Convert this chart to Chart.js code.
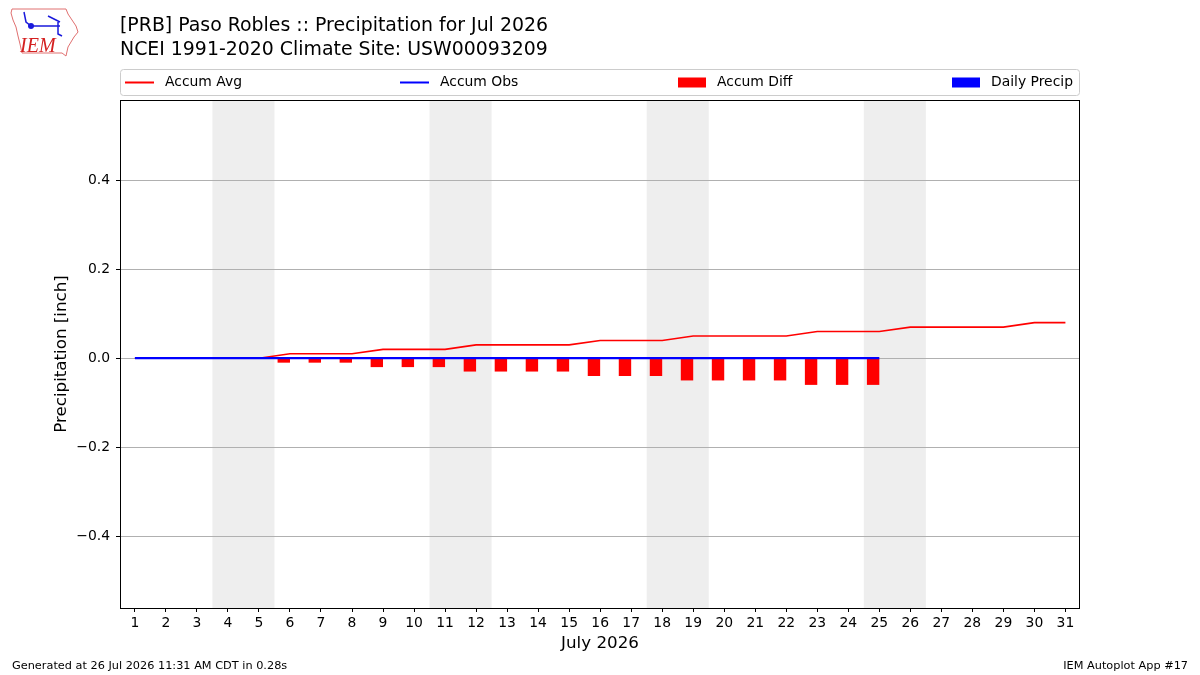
<!DOCTYPE html>
<html>
<head>
<meta charset="utf-8">
<title>PRB Precipitation Jul 2026</title>
<script src="https://cdn.jsdelivr.net/npm/chart.js@4"></script>
<style>
  html, body { margin: 0; padding: 0; background: #ffffff; }
  canvas { display: block; }
</style>
</head>
<body>
<canvas id="myChart" width="1200" height="675"></canvas>
<script>
// the data
let days = [];
for (let d = 1; d <= 31; d++) days.push(d);
let accumAvg = [0, 0, 0, 0, 0, 0.01, 0.01, 0.01, 0.02, 0.02, 0.02, 0.03, 0.03, 0.03, 0.03,
    0.04, 0.04, 0.04, 0.05, 0.05, 0.05, 0.05, 0.06, 0.06, 0.06, 0.07, 0.07, 0.07, 0.07, 0.08, 0.08];
// observations only go to the 25th
let obsDays = days.slice(0, 25);
let accumObs = [0, 0, 0, 0, 0, 0, 0, 0, 0, 0, 0, 0, 0, 0, 0, 0, 0, 0, 0, 0, 0, 0, 0, 0, 0];
let accumDiff = [0, 0, 0, 0, 0, -0.01, -0.01, -0.01, -0.02, -0.02, -0.02, -0.03, -0.03, -0.03, -0.03,
    -0.04, -0.04, -0.04, -0.05, -0.05, -0.05, -0.05, -0.06, -0.06, -0.06];
let dailyPrecip = [0, 0, 0, 0, 0, 0, 0, 0, 0, 0, 0, 0, 0, 0, 0, 0, 0, 0, 0, 0, 0, 0, 0, 0, 0];
// saturdays of july 2026, the weekend gets shaded
let weekendStarts = [4, 11, 18, 25];
let yTicks = [-0.4, -0.2, 0, 0.2, 0.4];

let titleLines = ['[PRB] Paso Robles :: Precipitation for Jul 2026', 'NCEI 1991-2020 Climate Site: USW00093209'];
let footerLeft = 'Generated at 26 Jul 2026 11:31 AM CDT in 0.28s';
let footerRight = 'IEM Autoplot App #17';

const FONT = "'DejaVu Sans', 'Liberation Sans', sans-serif";

// white background + gray weekend bands, drawn before the grid
const bandsPlugin = {
    id: 'bands',
    beforeDraw(chart) {
        const ctx = chart.ctx;
        const a = chart.chartArea;
        const x = chart.scales.x;
        ctx.save();
        ctx.fillStyle = '#ffffff';
        ctx.fillRect(0, 0, chart.width, chart.height);
        ctx.fillStyle = '#eeeeee';
        weekendStarts.forEach(d => {
            let x0 = x.getPixelForValue(d - 0.5);
            let x1 = x.getPixelForValue(d + 1.5);
            ctx.fillRect(x0, a.top, x1 - x0, a.bottom - a.top);
        });
        ctx.restore();
    }
};

// frame, titles, legend, logo, footer
const decorPlugin = {
    id: 'decor',
    afterDraw(chart) {
        const ctx = chart.ctx;
        const a = chart.chartArea;
        ctx.save();

        // axes frame
        ctx.strokeStyle = '#000000';
        ctx.lineWidth = 1;
        ctx.strokeRect(Math.round(a.left) + 0.5, Math.round(a.top) + 0.5,
            Math.round(a.right - a.left) - 1, Math.round(a.bottom - a.top));

        // titles
        ctx.fillStyle = '#000000';
        ctx.font = '18.9px ' + FONT;
        ctx.textAlign = 'left';
        ctx.textBaseline = 'alphabetic';
        ctx.fillText(titleLines[0], 120, 31);
        ctx.fillText(titleLines[1], 120, 55);

        // legend box
        ctx.strokeStyle = '#cccccc';
        ctx.lineWidth = 1;
        ctx.beginPath();
        ctx.roundRect(120.5, 69.5, 959, 26, 3);
        ctx.stroke();

        const ly = 82.5;
        const items = [
            { start: 125, text: 165, line: true },
            { start: 400, text: 440, line: true },
            { start: 678, text: 717, line: false },
            { start: 952, text: 991, line: false }
        ];
        ctx.font = '13.9px ' + FONT;
        ctx.textBaseline = 'middle';
        chart.data.datasets.forEach((ds, i) => {
            const it = items[i];
            if (it.line) {
                ctx.strokeStyle = ds.borderColor;
                ctx.lineWidth = 2;
                ctx.beginPath();
                ctx.moveTo(it.start, ly);
                ctx.lineTo(it.start + 29, ly);
                ctx.stroke();
            } else {
                ctx.fillStyle = ds.backgroundColor;
                ctx.fillRect(it.start, ly - 5, 28, 10);
            }
            ctx.fillStyle = '#000000';
            ctx.fillText(ds.label, it.text, ly);
        });

        // little IEM logo
        ctx.strokeStyle = '#e07070';
        ctx.lineWidth = 1;
        ctx.beginPath();
        const pts = [[12, 9], [66, 9], [68, 14], [72, 20], [76, 26], [78, 32], [74, 37], [71, 42], [68, 47],
            [66, 56], [62, 53], [22, 53], [20, 44], [18, 36], [16, 27], [13, 20], [11, 13]];
        pts.forEach((p, i) => i ? ctx.lineTo(p[0], p[1]) : ctx.moveTo(p[0], p[1]));
        ctx.closePath();
        ctx.stroke();
        ctx.strokeStyle = '#1a1adc';
        ctx.fillStyle = '#1a1adc';
        ctx.lineWidth = 1.5;
        ctx.beginPath();
        ctx.moveTo(31, 26); ctx.lineTo(60, 26);
        ctx.moveTo(24, 12); ctx.lineTo(26, 22); ctx.lineTo(31, 26);
        ctx.moveTo(48, 16); ctx.lineTo(60, 22);
        ctx.moveTo(58, 22); ctx.lineTo(58, 34); ctx.lineTo(62, 36);
        ctx.stroke();
        ctx.beginPath();
        ctx.arc(31, 26, 3, 0, Math.PI * 2);
        ctx.fill();
        ctx.fillStyle = '#d42020';
        ctx.font = 'italic 20px "Liberation Serif", serif';
        ctx.textBaseline = 'alphabetic';
        ctx.fillText('IEM', 20, 52);

        // footer
        ctx.fillStyle = '#000000';
        ctx.font = '11.3px ' + FONT;
        ctx.textAlign = 'left';
        ctx.fillText(footerLeft, 12, 669);
        ctx.textAlign = 'right';
        ctx.fillText(footerRight, 1188, 669);

        ctx.restore();
    }
};

let ctx = document.getElementById('myChart').getContext('2d');
let xchart = new Chart(ctx, {
    type: 'line',
    data: {
        datasets: [{
            label: 'Accum Avg',
            data: days.map((d, i) => ({ x: d, y: accumAvg[i] })),
            borderColor: '#ff0000',
            backgroundColor: '#ff0000',
            borderWidth: 1.6,
            pointRadius: 0,
            order: 1
        }, {
            label: 'Accum Obs',
            data: obsDays.map((d, i) => ({ x: d, y: accumObs[i] })),
            borderColor: '#0000ff',
            backgroundColor: '#0000ff',
            borderWidth: 2.2,
            pointRadius: 0,
            order: 0
        }, {
            type: 'bar',
            label: 'Accum Diff',
            // bars sit just left of the day
            data: obsDays.map((d, i) => ({ x: d - 0.2, y: accumDiff[i] })),
            backgroundColor: '#ff0000',
            borderWidth: 0,
            inflateAmount: 0,
            grouped: false,
            barPercentage: 1,
            categoryPercentage: 1,
            order: 3
        }, {
            type: 'bar',
            label: 'Daily Precip',
            data: obsDays.map((d, i) => ({ x: d + 0.2, y: dailyPrecip[i] })),
            backgroundColor: '#0000ff',
            borderWidth: 0,
            inflateAmount: 0,
            grouped: false,
            barPercentage: 1,
            categoryPercentage: 1,
            order: 2
        }]
    },
    options: {
        responsive: false,
        animation: false,
        devicePixelRatio: 1,
        layout: { padding: { left: 0, right: 120, top: 100, bottom: 0 } },
        plugins: { legend: { display: false }, tooltip: { enabled: false } },
        scales: {
            x: {
                type: 'linear',
                min: 0.52,
                max: 31.47,
                offset: false,
                afterFit: s => { s.height = 67; },
                afterBuildTicks: s => { s.ticks = days.map(d => ({ value: d })); },
                grid: { display: true, drawOnChartArea: false, drawTicks: true, tickLength: 4, tickColor: '#000000', offset: false },
                border: { display: false },
                ticks: {
                    autoSkip: false, maxRotation: 0, padding: 3,
                    color: '#000000', font: { family: FONT, size: 13.9 },
                    callback: v => String(v)
                },
                title: {
                    display: true, text: 'July 2026', color: '#000000',
                    font: { family: FONT, size: 16.7 }, padding: { top: 0, bottom: 21 }
                }
            },
            y: {
                min: -0.562,
                max: 0.581,
                afterFit: s => { s.width = 120; },
                afterBuildTicks: s => { s.ticks = yTicks.map(v => ({ value: v })); },
                grid: { color: '#b0b0b0', lineWidth: 1, drawTicks: true, tickLength: 4, tickColor: '#000000' },
                border: { display: false },
                ticks: {
                    padding: 6, color: '#000000', font: { family: FONT, size: 13.9 },
                    callback: v => (v < 0 ? '\u2212' : '') + Math.abs(v).toFixed(1)
                },
                title: {
                    display: true, text: 'Precipitation [inch]', color: '#000000',
                    font: { family: FONT, size: 16.7 }, padding: { top: 52, bottom: 0 }
                }
            }
        }
    },
    plugins: [bandsPlugin, decorPlugin]
});
</script>
</body>
</html>
